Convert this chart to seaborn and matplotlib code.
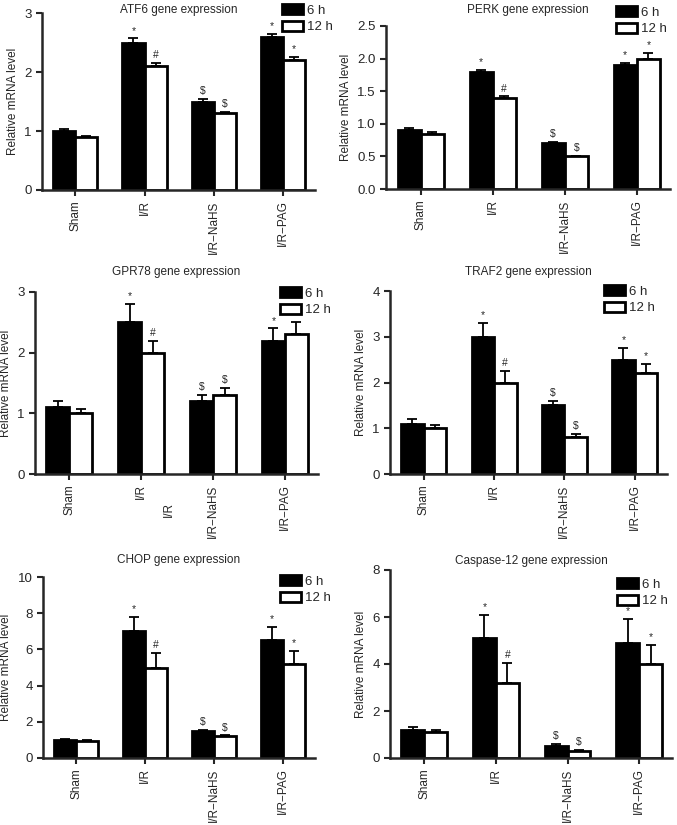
import numpy as np
import pandas as pd
import seaborn as sns
import matplotlib.pyplot as plt
from matplotlib.patches import Patch

# ---------------- data ----------------
groups = ['Sham', 'I/R', 'I/R\u2212NaHS', 'I/R\u2212PAG']
times = ['6 h', '12 h']

titles = ['ATF6 gene expression', 'PERK gene expression',
          'GPR78 gene expression', 'TRAF2 gene expression',
          'CHOP gene expression', 'Caspase-12 gene expression']

atf6_6h = [1.0, 2.5, 1.5, 2.6]
atf6_12h = [0.9, 2.1, 1.3, 2.2]
atf6_err6 = [0.03, 0.07, 0.04, 0.05]
atf6_err12 = [0.02, 0.05, 0.03, 0.05]

perk_6h = [0.9, 1.8, 0.7, 1.9]
perk_12h = [0.85, 1.4, 0.5, 2.0]
perk_err6 = [0.03, 0.03, 0.02, 0.04]
perk_err12 = [0.02, 0.02, 0.01, 0.09]

gpr78_6h = [1.1, 2.5, 1.2, 2.2]
gpr78_12h = [1.0, 2.0, 1.3, 2.3]
gpr78_err6 = [0.1, 0.3, 0.1, 0.2]
gpr78_err12 = [0.07, 0.2, 0.12, 0.2]

traf2_6h = [1.1, 3.0, 1.5, 2.5]
traf2_12h = [1.0, 2.0, 0.8, 2.2]
traf2_err6 = [0.1, 0.3, 0.1, 0.25]
traf2_err12 = [0.08, 0.25, 0.07, 0.2]

chop_6h = [1.0, 7.0, 1.5, 6.5]
chop_12h = [0.95, 5.0, 1.2, 5.2]
chop_err6 = [0.05, 0.8, 0.07, 0.75]
chop_err12 = [0.05, 0.8, 0.05, 0.7]

casp_6h = [1.2, 5.1, 0.5, 4.9]
casp_12h = [1.1, 3.2, 0.3, 4.0]
casp_err6 = [0.1, 1.0, 0.1, 1.0]
casp_err12 = [0.1, 0.85, 0.05, 0.8]

marks_6h = ['', '*', '$', '*']
marks_12h = ['', '#', '$', '*']

yticks = [[0, 1, 2, 3],
          [0.0, 0.5, 1.0, 1.5, 2.0, 2.5],
          [0, 1, 2, 3],
          [0, 1, 2, 3, 4],
          [0, 2, 4, 6, 8, 10],
          [0, 2, 4, 6, 8]]

panels = [(atf6_6h, atf6_12h, atf6_err6, atf6_err12),
          (perk_6h, perk_12h, perk_err6, perk_err12),
          (gpr78_6h, gpr78_12h, gpr78_err6, gpr78_err12),
          (traf2_6h, traf2_12h, traf2_err6, traf2_err12),
          (chop_6h, chop_12h, chop_err6, chop_err12),
          (casp_6h, casp_12h, casp_err6, casp_err12)]

# ---------------- layout (pixels in a 677x825 canvas) ----------------
W, H = 677, 825
# left, right, top, bottom of each axes
boxes = [(42, 315, 13, 190), (386, 670, 26, 189),
         (35, 318, 292, 474), (390, 667, 291, 474),
         (43, 315, 577, 758), (390, 672, 570, 758)]
title_gap = [3, 16, 20, 19, 17, 9]     # title centre above axes top (px)
legend_xy = [(282, 4), (616, 6), (280, 287), (604, 285), (280, 575), (617, 578)]

sns.set_style('ticks')
plt.rcParams['font.family'] = ['Liberation Sans', 'DejaVu Sans']

fig = plt.figure(figsize=(W / 100, H / 100), dpi=100)

for i, (v6, v12, e6, e12) in enumerate(panels):
    l, r, t, b = boxes[i]
    ax = fig.add_axes([l / W, 1 - b / H, (r - l) / W, (b - t) / H])

    df = pd.DataFrame({'group': groups * 2,
                       'time': [times[0]] * 4 + [times[1]] * 4,
                       'value': v6 + v12})
    sns.barplot(data=df, x='group', y='value', hue='time', order=groups,
                hue_order=times, palette=['black', 'white'], edgecolor='black',
                linewidth=2.0, width=0.64, errorbar=None, legend=False, ax=ax)

    for cont, err, marks in zip(ax.containers, [e6, e12], [marks_6h, marks_12h]):
        xs = [p.get_x() + p.get_width() / 2 for p in cont.patches]
        ys = [p.get_height() for p in cont.patches]
        ax.errorbar(xs, ys, yerr=[np.zeros(len(err)), err], fmt='none',
                    ecolor='black', elinewidth=1.3, capsize=3.5, capthick=1.3,
                    zorder=3)
        for x, y, e, m in zip(xs, ys, err, marks):
            if m:
                ax.annotate(m, (x, y + e), xytext=(0, 2), textcoords='offset points',
                            ha='center', va='bottom', fontsize=7.5)

    ax.set_xlim(-0.48, 3.46)
    ax.set_ylim(0, yticks[i][-1])
    ax.set_yticks(yticks[i])
    if i == 1:
        ax.set_yticklabels([f'{v:.1f}' for v in yticks[i]])
    ax.set_xlabel('')
    ax.set_ylabel('Relative mRNA level', fontsize=8.5)
    ax.tick_params(axis='y', labelsize=9.5, width=1.5, length=4)
    ax.tick_params(axis='x', labelsize=8.5, width=1.5, length=4, rotation=90)
    for s in ['left', 'bottom']:
        ax.spines[s].set_linewidth(1.8)
    sns.despine(ax=ax)

    ax.set_title(titles[i], fontsize=8.5, y=1 + title_gap[i] / (b - t), pad=0,
                 va='center')

    handles = [Patch(facecolor='black', edgecolor='black', linewidth=2.0),
               Patch(facecolor='white', edgecolor='black', linewidth=2.0)]
    lx, ly = legend_xy[i]
    ax.legend(handles, times, loc='upper left',
              bbox_to_anchor=(lx / W, 1 - ly / H), bbox_transform=fig.transFigure,
              frameon=False, fontsize=9.5, handlelength=1.6, handleheight=0.8,
              handletextpad=0.3, labelspacing=0.3, borderpad=0, borderaxespad=0)

    if i == 2:
        # stray duplicate label present in the original figure
        ax.annotate('I/R', (1.38, 0), xycoords=('data', 'axes fraction'),
                    xytext=(0, -20), textcoords='offset points',
                    rotation=90, ha='center', va='top', fontsize=8.5)

fig.savefig('out.png', dpi=100)
